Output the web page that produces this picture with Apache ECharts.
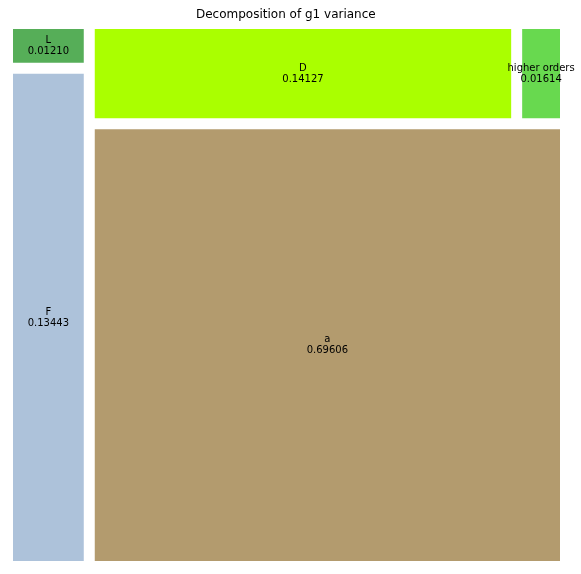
<!DOCTYPE html>
<html>
<head>
<meta charset="utf-8">
<script src="https://cdn.jsdelivr.net/npm/echarts@6/dist/echarts.min.js"></script>
<style>html,body{margin:0;padding:0;background:#fff}#c{width:581px;height:574px}</style>
</head>
<body>
<div id="c"></div>
<script>
const names = ['L', 'F', 'D', 'higher orders', 'a'];
const values = [0.01210, 0.13443, 0.14127, 0.01614, 0.69606];
const colors = ['#56ae58', '#adc2da', '#aaff00', '#68d94f', '#b39b6e'];

const chart = echarts.init(document.getElementById('c'));
chart.setOption({
  animation: false,
  title: {
    text: 'Decomposition of g1 variance',
    left: 191, top: 4,
    textStyle: { fontFamily: 'DejaVu Sans', fontSize: 12, fontWeight: 'normal', color: '#000' }
  },
  series: [{
    type: 'treemap',
    left: 13, top: 29, width: 547, height: 532,
    sort: false,
    squareRatio: 1,
    roam: false,
    nodeClick: false,
    breadcrumb: { show: false },
    visibleMin: 0,
    levels: [{ itemStyle: { gapWidth: 11, borderWidth: 0 } }],
    itemStyle: { borderWidth: 0, gapWidth: 0 },
    label: {
      show: true,
      position: 'inside',
      align: 'center',
      verticalAlign: 'middle',
      overflow: 'none',
      fontFamily: 'DejaVu Sans',
      fontSize: 10,
      lineHeight: 11,
      color: '#000',
      formatter: p => p.name + '\n' + p.value.toFixed(5)
    },
    emphasis: { disabled: true },
    data: names.map((n, i) => ({ name: n, value: values[i], itemStyle: { color: colors[i] } }))
  }]
});
</script>
</body>
</html>
